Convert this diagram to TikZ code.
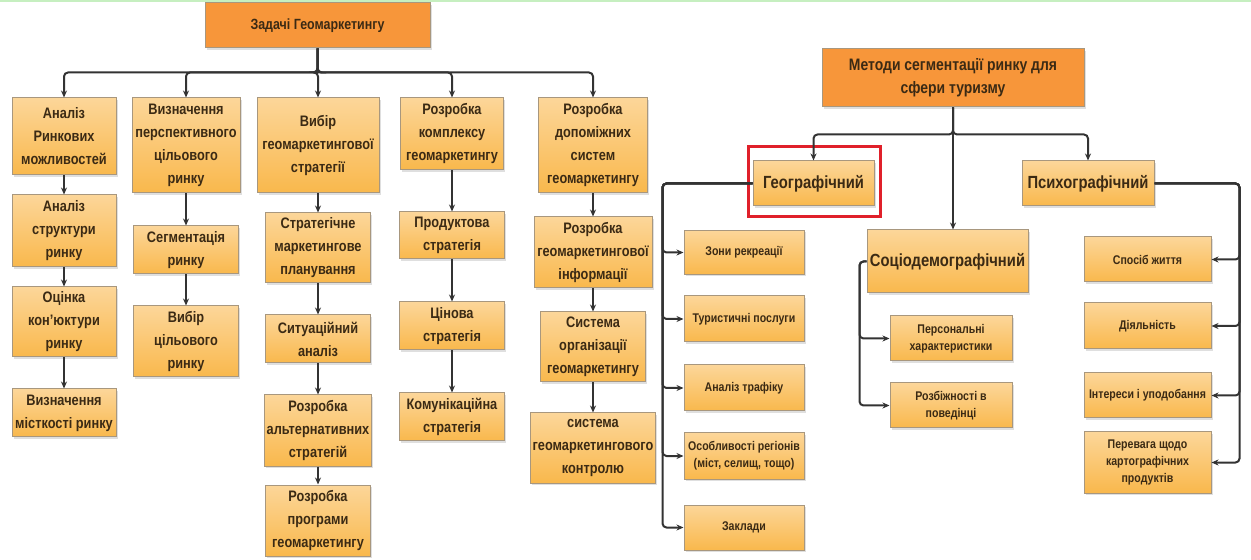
\documentclass[tikz,border=0pt]{standalone}
\usepackage{fontspec}
\setmainfont{Liberation Sans}[FakeStretch=0.84]
\usetikzlibrary{positioning, arrows.meta, shadows}

\definecolor{hdrfill}{HTML}{F7963A}
\definecolor{boxtop}{HTML}{FCD699}
\definecolor{boxbot}{HTML}{F9B84C}
\definecolor{boxline}{HTML}{A8977E}
\definecolor{boxtext}{HTML}{3B2A14}
\definecolor{wirecol}{HTML}{333333}
\definecolor{hilite}{HTML}{E0202A}
\definecolor{topline}{HTML}{C6EFC0}

\begin{document}
\begin{tikzpicture}[x=0.5pt, y=-0.5pt,
    box/.style={draw=boxline, line width=0.5pt, top color=boxtop, bottom color=boxbot,
        text=boxtext, align=center, inner sep=1pt,
        font=\bfseries\fontsize{7.6}{11.5}\selectfont,
        drop shadow={shadow xshift=0.8pt, shadow yshift=-0.8pt, fill=black!25}},
    hdr/.style={box, top color=hdrfill, bottom color=hdrfill},
    small/.style={box, font=\bfseries\fontsize{6.3}{8.5}\selectfont},
    big/.style={box, font=\bfseries\fontsize{8.8}{11}\selectfont},
    sz/.style 2 args={minimum width=#1*0.5pt, minimum height=#2*0.5pt},
    link/.style={draw=wirecol, line width=1pt, rounded corners=2pt, -{Stealth[length=3.5pt, width=3pt]}}]

    \useasboundingbox (0,0) rectangle (1251,560);
    \draw[topline, line width=1.2pt] (0,1) -- (1251,1);

    % tasks of geomarketing
    \node[hdr, sz={225}{45}, font=\bfseries\fontsize{7.4}{9}\selectfont] (zad) at (317.5,25.5) {Задачі Геомаркетингу};

    \node[box, sz={104}{77}] (a1) at (64,136.5) {Аналіз\\Ринкових\\можливостей};
    \node[box, sz={104}{72}] (a2) at (64,231) {Аналіз\\структури\\ринку};
    \node[box, sz={104}{70}] (a3) at (64,322) {Оцінка\\кон'юктури\\ринку};
    \node[box, sz={104}{48}] (a4) at (64,413) {Визначення\\місткості ринку};

    \node[box, sz={108}{95}] (b1) at (186,145.5) {Визначення\\перспективного\\цільового\\ринку};
    \node[box, sz={105}{48}] (b2) at (186,250) {Сегментація\\ринку};
    \node[box, sz={105}{71}] (b3) at (186,341.5) {Вибір\\цільового\\ринку};

    \node[box, sz={122}{95}] (c1) at (318,145.5) {Вибір\\геомаркетингової\\стратегії};
    \node[box, sz={105}{70}] (c2) at (318,248) {Стратегічне\\маркетингове\\планування};
    \node[box, sz={105}{48}] (c3) at (318,339) {Ситуаційний\\аналіз};
    \node[box, sz={105}{71}] (c4) at (318,430.5) {Розробка\\альтернативних\\стратегій};
    \node[box, sz={105}{71}] (c5) at (318,520.5) {Розробка\\програми\\геомаркетингу};

    \node[box, sz={103}{72}] (d1) at (452,134) {Розробка\\комплексу\\геомаркетингу};
    \node[box, sz={105}{47}] (d2) at (452,235.5) {Продуктова\\стратегія};
    \node[box, sz={105}{48}] (d3) at (452,326) {Цінова\\стратегія};
    \node[box, sz={105}{48}] (d4) at (452,417) {Комунікаційна\\стратегія};

    \node[box, sz={109}{95}] (e1) at (593,145.5) {Розробка\\допоміжних\\систем\\геомаркетингу};
    \node[box, sz={118}{71}] (e2) at (593,252.5) {Розробка\\геомаркетингової\\інформації};
    \node[box, sz={105}{70}] (e3) at (593,347) {Система\\організації\\геомаркетингу};
    \node[box, sz={122}{70}] (e4) at (593,448) {система\\геомаркетингового\\контролю};

    \foreach \n in {a1,b1,c1,d1,e1}
        \draw[link] (zad.south) -- ++(0,24) -| (\n.north);
    \path[link]
        (a1) edge (a2) (a2) edge (a3) (a3) edge (a4)
        (b1) edge (b2) (b2) edge (b3)
        (c1) edge (c2) (c2) edge (c3) (c3) edge (c4) (c4) edge (c5)
        (d1) edge (d2) (d2) edge (d3) (d3) edge (d4)
        (e1) edge (e2) (e2) edge (e3) (e3) edge (e4);

    % segmentation methods
    \node[hdr, sz={262}{58}, font=\bfseries\fontsize{8.3}{11.5}\selectfont] (met) at (953,78) {Методи сегментації ринку для\\сфери туризму};

    \node[big, sz={121}{45}] (geo) at (813.5,183.5) {Географічний};
    \node[big, sz={161}{63}] (soc) at (947.5,261.5) {Соціодемографічний};
    \node[big, sz={132}{45}] (psy) at (1088,183.5) {Психографічний};
    \draw[hilite, line width=1.5pt] (748,147) rectangle (880,217);

    \node[small, sz={120}{44}] (g1) at (744,252.5) {Зони рекреації};
    \node[small, sz={120}{46}] (g2) at (744,319) {Туристичні послуги};
    \node[small, sz={120}{46}] (g3) at (744,388) {Аналіз трафіку};
    \node[small, sz={120}{46}] (g4) at (744,456) {Особливості регіонів\\(міст, селищ, тощо)};
    \node[small, sz={120}{45}] (g5) at (744,527.5) {Заклади};

    \node[small, sz={122}{45}] (s1) at (951,338.5) {Персональні\\характеристики};
    \node[small, sz={122}{45}] (s2) at (951,405.5) {Розбіжності в\\поведінці};

    \node[small, sz={127}{45}] (p1) at (1147.5,259.5) {Спосіб життя};
    \node[small, sz={127}{46}] (p2) at (1147.5,326) {Діяльність};
    \node[small, sz={127}{45}] (p3) at (1147.5,395.5) {Інтереси і уподобання};
    \node[small, sz={127}{61}] (p4) at (1147.5,462.5) {Перевага щодо\\картографічних\\продуктів};

    \foreach \n in {geo,psy}
        \draw[link] (met.south) -- ++(0,27) -| (\n.north);
    \draw[link] (met.south) -- (met.south |- soc.north);

    \foreach \n in {g1,g2,g3,g4,g5}
        \draw[link] (geo.west) -- ++(-90,0) |- (\n.west);
    \foreach \n in {s1,s2}
        \draw[link] (soc.west) -- ++(-7,0) |- (\n.west);
    \foreach \n in {p1,p2,p3,p4}
        \draw[link] (psy.east) -- ++(85,0) |- (\n.east);
\end{tikzpicture}
\end{document}
